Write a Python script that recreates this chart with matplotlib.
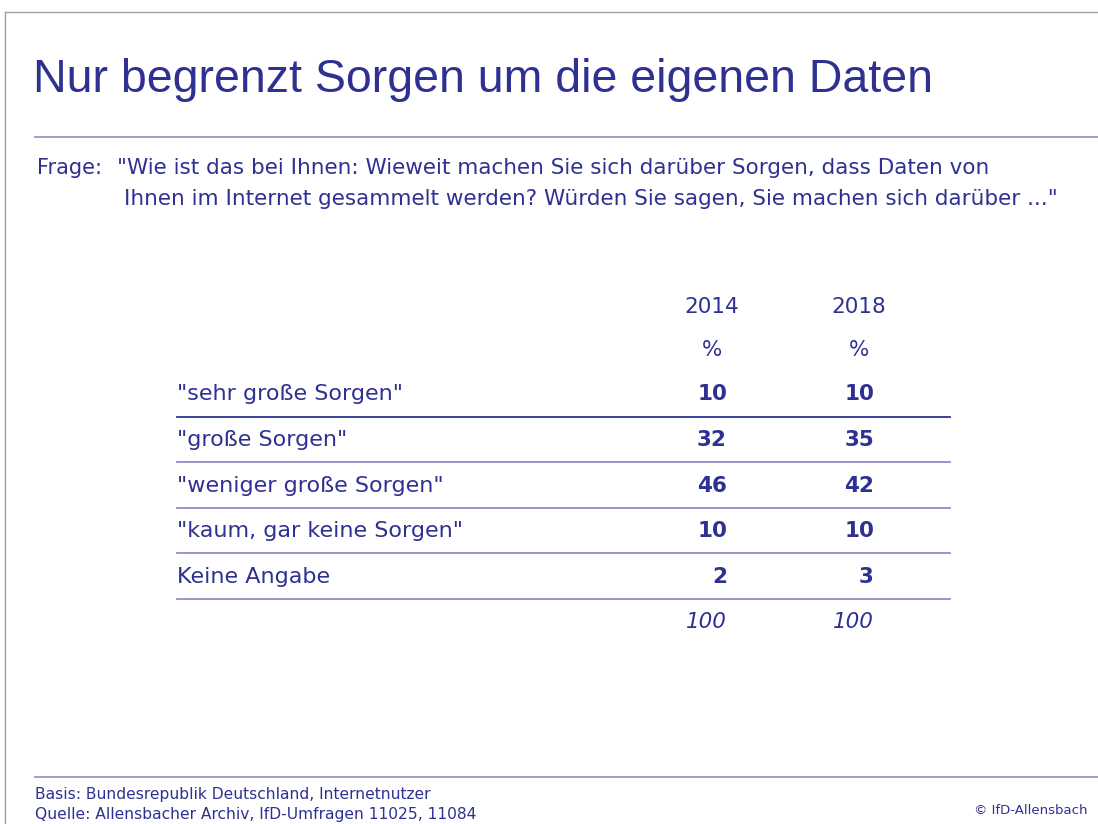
import matplotlib.pyplot as plt
from matplotlib.lines import Line2D

# data
title = "Nur begrenzt Sorgen um die eigenen Daten"
question = ['"Wie ist das bei Ihnen: Wieweit machen Sie sich darüber Sorgen, dass Daten von',
            'Ihnen im Internet gesammelt werden? Würden Sie sagen, Sie machen sich darüber ..."']
years = ["2014", "2018"]
categories = ['"sehr große Sorgen"', '"große Sorgen"', '"weniger große Sorgen"',
              '"kaum, gar keine Sorgen"', 'Keine Angabe']
values_2014 = [10, 32, 46, 10, 2]
values_2018 = [10, 35, 42, 10, 3]
totals = [100, 100]
footer = ["Basis: Bundesrepublik Deutschland, Internetnutzer",
          "Quelle: Allensbacher Archiv, IfD-Umfragen 11025, 11084"]

navy = "#2e3192"
light = "#8c8fc8"
plt.rcParams['font.family'] = ['DejaVu Sans']

fig = plt.figure(figsize=(10.98, 8.24), dpi=100)
ax = fig.add_axes([0, 0, 1, 1])
ax.set_xlim(0, 1098)
ax.set_ylim(824, 0)
ax.axis('off')

# frame
ax.add_line(Line2D([5, 1098], [12, 12], color="#a0a0a0", lw=1))
ax.add_line(Line2D([5, 5], [12, 824], color="#a0a0a0", lw=1))

ax.text(33, 80, title, fontsize=33.5, color=navy, va='center', ha='left',
        family='Liberation Sans')
ax.add_line(Line2D([35, 1098], [137, 137], color=light, lw=1.2))

ax.text(37, 168, "Frage:", fontsize=15, color=navy, va='center')
ax.text(117, 168, question[0], fontsize=15.5, color=navy, va='center')
ax.text(124, 199, question[1], fontsize=15.5, color=navy, va='center')

col_x = [712, 859]
val_x = [727, 874]
for x, yr in zip(col_x, years):
    ax.text(x, 307, yr, fontsize=15.5, color=navy, ha='center', va='center')
    ax.text(x, 350, "%", fontsize=15.5, color=navy, ha='center', va='center')

row_y = [394, 440, 486, 531, 577]
line_y = [417, 462, 508, 553, 599]
for i, cat in enumerate(categories):
    ax.text(177, row_y[i], cat, fontsize=16, color=navy, va='center')
    ax.text(val_x[0], row_y[i], str(values_2014[i]), fontsize=15.5, color=navy,
            fontweight='bold', ha='right', va='center')
    ax.text(val_x[1], row_y[i], str(values_2018[i]), fontsize=15.5, color=navy,
            fontweight='bold', ha='right', va='center')
    ax.add_line(Line2D([177, 950], [line_y[i], line_y[i]],
                       color=navy if i == 0 else light, lw=1.3))

for x, t in zip(val_x, totals):
    ax.text(x, 622, str(t), fontsize=15.5, color=navy, style='italic', ha='right', va='center')

ax.add_line(Line2D([35, 1098], [777, 777], color=light, lw=1.2))
ax.text(35, 795, footer[0], fontsize=11.2, color=navy, va='center')
ax.text(35, 815, footer[1], fontsize=11.2, color=navy, va='center')
ax.text(1088, 810, "© IfD-Allensbach", fontsize=9.5, color=navy, ha='right', va='center')

fig.savefig("out.png", dpi=100)
